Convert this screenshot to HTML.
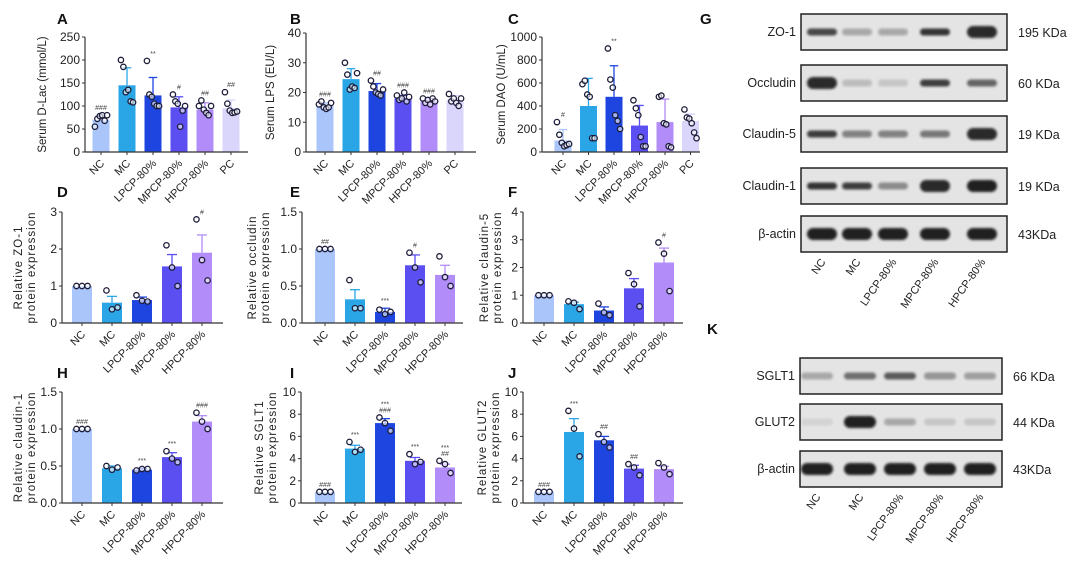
<!DOCTYPE html>
<html><head><meta charset="utf-8"><style>
body{margin:0;background:#fff;}
svg{display:block;font-family:"Liberation Sans",Arial,sans-serif;}
</style></head><body>
<svg id="fig" width="1080" height="580" viewBox="0 0 1080 580">
<defs><filter id="blur" x="-20%" y="-60%" width="140%" height="220%"><feGaussianBlur stdDeviation="1.4"/></filter></defs>
</svg>
<script>
const colors=["#a9c5fa","#2aa6e6","#1f45e0","#5b4ff2","#b28cf8","#d9d5fb"];
const cats6=["NC","MC","LPCP-80%","MPCP-80%","HPCP-80%","PC"];
const cats5=["NC","MC","LPCP-80%","MPCP-80%","HPCP-80%"];
// Panel A
const meanA=[70,145,123,97,92,95];
const errA=[80,183,162,120,107,113];
const ptsA=[[55,72,78,80,68,80],[200,185,130,135,110,108],[198,125,120,105,100,100],[125,110,105,55,90,100],[100,112,92,85,80,100],[130,105,90,85,86,88]];
const annA=["###","","**","#","##","##"];
// Panel B
const meanB=[15.5,24.5,20.5,18,17,17.5];
const errB=[16.5,28,23,19,18,19];
const ptsB=[[16,17,15,14.5,15,16.5],[30,26,21,22,21.5,26.5],[24,22,20,19.5,19,21],[19,17.5,18,20,17,18.5],[18,16.5,17.5,16,18,17],[19.5,17,18,16.5,15.5,18]];
const annB=["###","","##","###","###",""];
// Panel C
const meanC=[100,400,480,230,260,270];
const errC=[195,640,750,405,460,330];
const ptsC=[[260,150,80,50,60,70],[590,620,500,480,120,120],[900,630,560,320,270,200],[450,380,320,130,50,50],[480,490,250,240,50,40],[370,300,290,250,170,120]];
const annC=["#","","**","","",""];
// Panel D
const meanD=[1,0.55,0.62,1.53,1.9];
const errD=[1,0.72,0.7,1.85,2.38];
const ptsD=[[1,1,1],[0.88,0.37,0.42],[0.75,0.6,0.58],[2.1,1.5,1.0],[2.8,1.7,1.15]];
const annD=["","","","","#"];
// Panel E
const meanE=[1,0.32,0.15,0.78,0.65];
const errE=[1,0.45,0.2,0.92,0.78];
const ptsE=[[1,1,1],[0.58,0.2,0.2],[0.18,0.12,0.15],[0.95,0.75,0.55],[0.9,0.62,0.5]];
const annE=["##","","***","#",""];
// Panel F
const meanF=[1,0.68,0.45,1.25,2.18];
const errF=[1,0.75,0.58,1.6,2.7];
const ptsF=[[1,1,1],[0.78,0.73,0.5],[0.7,0.38,0.28],[1.8,1.4,0.6],[2.9,2.5,1.15]];
const annF=["","","","","#"];
// Panel H
const meanH=[1,0.47,0.45,0.62,1.1];
const errH=[1,0.5,0.47,0.68,1.18];
const ptsH=[[1,1,1],[0.5,0.45,0.48],[0.44,0.46,0.46],[0.7,0.6,0.55],[1.22,1.1,1.0]];
const annH=["###","","***","***","###"];
// Panel I
const meanI=[1,4.9,7.2,3.8,3.2];
const errI=[1,5.2,7.6,4.1,3.5];
const ptsI=[[1,1,1],[5.5,4.6,4.8],[7.7,7.2,6.5],[4.4,3.5,3.7],[3.8,3.5,2.7]];
const annI=["###","***","***\n###","***","***\n##"];
// Panel J
const meanJ=[1,6.4,5.65,3.1,3.05];
const errJ=[1,7.6,6,3.4,3.3];
const ptsJ=[[1,1,1],[8.3,6.7,4.2],[6.2,5.5,5.0],[3.5,3.2,2.5],[3.6,3.2,2.6]];
const annJ=["###","***","##","##",""];

const NS="http://www.w3.org/2000/svg";
const fig=document.getElementById('fig');
function mk(tag,attrs,parent,text){const e=document.createElementNS(NS,tag);for(const k in attrs)e.setAttribute(k,attrs[k]);if(text!==undefined)e.textContent=text;(parent||fig).appendChild(e);return e;}

function panel(p){
  const g=mk('g',{});
  
  
  const ys=v=>p.y0-(v-p.min)/(p.max-p.min)*(p.y0-p.y1);
  const xs=i=>p.bx+i*p.step;
  p.mean.forEach((v,i)=>{
    const c=colors[i];
    const r=mk('rect',{x:xs(i)-p.bw/2,y:ys(v),width:p.bw,height:p.y0-ys(v),fill:c},g);
    
    
    const e=p.err[i];
    if(e>v){
      mk('line',{x1:xs(i),x2:xs(i),y1:ys(v),y2:ys(e),stroke:c,'stroke-width':1.3},g);
      mk('line',{x1:xs(i)-p.bw/4,x2:xs(i)+p.bw/4,y1:ys(e),y2:ys(e),stroke:c,'stroke-width':1.3},g);
    }
    const pts=p.pts[i];const n=pts.length;
    pts.forEach((pv,j)=>{
      const off=(j-(n-1)/2)*(p.bw/(n>3?7:3.6));
      const cc=mk('circle',{cx:xs(i)+off,cy:ys(pv),r:2.7,fill:'rgba(255,255,255,0.6)',stroke:'#1d1d3a','stroke-width':1.3},g);
      
      
    });
    if(p.ann[i]){
      const top=Math.max(e,Math.max(...pts));
      const lines=p.ann[i].split('\n');
      lines.forEach((t,k)=>{
        const a=mk('text',{x:xs(i),y:ys(top)-5-(lines.length-1-k)*6,'font-size':7,'text-anchor':'middle',fill:'#444'},g,t);
        
        
      });
    }
  });
  mk('line',{x1:p.ax,x2:p.ax,y1:p.y1,y2:p.y0,stroke:'#333','stroke-width':1.2},g);
  mk('line',{x1:p.ax,x2:p.axEnd,y1:p.y0,y2:p.y0,stroke:'#333','stroke-width':1.2},g);
  p.ticks.forEach(t=>{
    mk('line',{x1:p.ax-3,x2:p.ax,y1:ys(t),y2:ys(t),stroke:'#333','stroke-width':1},g);
    const tl=mk('text',{x:p.ax-5,y:ys(t)+4,'font-size':p.tfs,'text-anchor':'end',fill:'#222'},g,p.tickLab(t));
    
    
  });
  p.cats.forEach((c,i)=>{
    mk('line',{x1:xs(i),x2:xs(i),y1:p.y0,y2:p.y0+3,stroke:'#333'},g);
    const tl=mk('text',{x:0,y:0,'font-size':11,'text-anchor':'end',fill:'#222',transform:`translate(${xs(i)+4},${p.y0+12}) rotate(-45)`},g,c);
    
    
  });
  const ty=(p.y0+p.y1)/2;
  p.title.forEach((t,k)=>{
    const yt=mk('text',{x:0,y:0,'font-size':11.5,'text-anchor':'middle',fill:'#222','letter-spacing':p.title.length>1?1:0,transform:`translate(${p.titleX+k*13},${ty}) rotate(-90)`},g,t);
    
    
  });
  const L=mk('text',{x:p.lx,y:p.ly,'font-size':15,'font-weight':'bold',fill:'#111'},g,p.id);
  
  
}
const f0=t=>String(t), f1=t=>t.toFixed(1);
panel({id:'A',cats:cats6,mean:meanA,err:errA,pts:ptsA,ann:annA,min:0,max:250,y0:152,y1:37,ax:85,axEnd:248,bx:101,step:26,bw:17,ticks:[0,50,100,150,200,250],tickLab:f0,tfs:12,title:['Serum D-Lac (mmol/L)'],titleX:46,lx:57,ly:24});
panel({id:'B',cats:cats6,mean:meanB,err:errB,pts:ptsB,ann:annB,min:0,max:40,y0:152,y1:33,ax:306,axEnd:476,bx:325,step:26,bw:17,ticks:[0,10,20,30,40],tickLab:f0,tfs:12,title:['Serum LPS (EU/L)'],titleX:274,lx:290,ly:24});
panel({id:'C',cats:cats6,mean:meanC,err:errC,pts:ptsC,ann:annC,min:0,max:1000,y0:152,y1:37,ax:542,axEnd:700,bx:563,step:25.5,bw:17,ticks:[0,200,400,600,800,1000],tickLab:f0,tfs:12,title:['Serum DAO (U/mL)'],titleX:505,lx:508,ly:24});
panel({id:'D',cats:cats5,mean:meanD,err:errD,pts:ptsD,ann:annD,min:0,max:3,y0:323,y1:212,ax:62,axEnd:223,bx:82,step:30,bw:20,ticks:[0,1,2,3],tickLab:f0,tfs:12,title:['Relative ZO-1','protein expression'],titleX:22,lx:57,ly:197});
panel({id:'E',cats:cats5,mean:meanE,err:errE,pts:ptsE,ann:annE,min:0,max:1.5,y0:323,y1:212,ax:302,axEnd:463,bx:325,step:30,bw:20,ticks:[0,0.5,1,1.5],tickLab:f1,tfs:12,title:['Relative occludin','protein expression'],titleX:256,lx:290,ly:197});
panel({id:'F',cats:cats5,mean:meanF,err:errF,pts:ptsF,ann:annF,min:0,max:4,y0:323,y1:212,ax:523,axEnd:683,bx:544,step:30,bw:20,ticks:[0,1,2,3,4],tickLab:f0,tfs:12,title:['Relative claudin-5','protein expression'],titleX:488,lx:508,ly:197});
panel({id:'H',cats:cats5,mean:meanH,err:errH,pts:ptsH,ann:annH,min:0,max:1.5,y0:503,y1:392,ax:62,axEnd:223,bx:82,step:30,bw:20,ticks:[0,0.5,1,1.5],tickLab:f1,tfs:12,title:['Relative claudin-1','protein expression'],titleX:22,lx:57,ly:378});
panel({id:'I',cats:cats5,mean:meanI,err:errI,pts:ptsI,ann:annI,min:0,max:10,y0:503,y1:392,ax:301,axEnd:462,bx:325,step:30,bw:20,ticks:[0,2,4,6,8,10],tickLab:f0,tfs:12,title:['Relative SGLT1','protein expression'],titleX:263,lx:290,ly:378});
panel({id:'J',cats:cats5,mean:meanJ,err:errJ,pts:ptsJ,ann:annJ,min:0,max:10,y0:503,y1:392,ax:523,axEnd:683,bx:544,step:30,bw:20,ticks:[0,2,4,6,8,10],tickLab:f0,tfs:12,title:['Relative GLUT2','protein expression'],titleX:486,lx:508,ly:378});

// Western blots
const blotG=["ZO-1","Occludin","Claudin-5","Claudin-1","β-actin"];
const kdaG=["195 KDa","60 KDa","19 KDa","19 KDa","43KDa"];
const bandG=[[0.8,0.3,0.3,0.9,0.95],[0.95,0.2,0.15,0.85,0.65],[0.85,0.5,0.5,0.55,0.95],[0.9,0.85,0.45,0.95,1],[1,1,1,1,1]];
const blotK=["SGLT1","GLUT2","β-actin"];
const kdaK=["66 KDa","44 KDa","43KDa"];
const bandK=[[0.3,0.6,0.7,0.4,0.35],[0.05,1,0.3,0.15,0.15],[1,1,1,1,1]];
function blot(id,names,kdas,bands,x0,x1,rowsY,rowH,lanes,bandW,labelY,lx,ly){
  const g=mk('g',{});
  
  
  names.forEach((n,r)=>{
    const y=rowsY[r];
    mk('rect',{x:x0,y:y,width:x1-x0,height:rowH,fill:'#e4e4e4',stroke:'#222','stroke-width':1.5},g);
    bands[r].forEach((b,i)=>{
      const big=b>0.9;
      const be=mk('rect',{x:lanes[i]-bandW/2,y:y+rowH/2-(big?6:3.5),width:bandW,height:big?12:7,rx:big?6:3.5,fill:'#151515',opacity:Math.max(0.08,b*0.95),filter:'url(#blur)'},g);
      
      
    });
    const t=mk('text',{x:x0-5,y:y+rowH/2+4,'font-size':12.5,'text-anchor':'end',fill:'#222'},g,n);
    
    
    const k=mk('text',{x:x1+11,y:y+rowH/2+5,'font-size':12.5,fill:'#222'},g,kdas[r]);
    
    
  });
  cats5.forEach((c,i)=>{
    const t=mk('text',{x:0,y:0,'font-size':11,'text-anchor':'end',fill:'#222',transform:`translate(${lanes[i]+4},${labelY}) rotate(-55)`},g,c);
    
    
  });
  const L=mk('text',{x:lx,y:ly,'font-size':15,'font-weight':'bold',fill:'#111'},g,id);
  
  
}
blot('G',blotG,kdaG,bandG,801,1007,[14,65,116,168,216],36,[822,857,893,935,982],30,262,700,24);
blot('K',blotK,kdaK,bandK,800,1002,[358,404,451],36,[817,860,900,940,980],32,497,707,334);
</script>
</body></html>
